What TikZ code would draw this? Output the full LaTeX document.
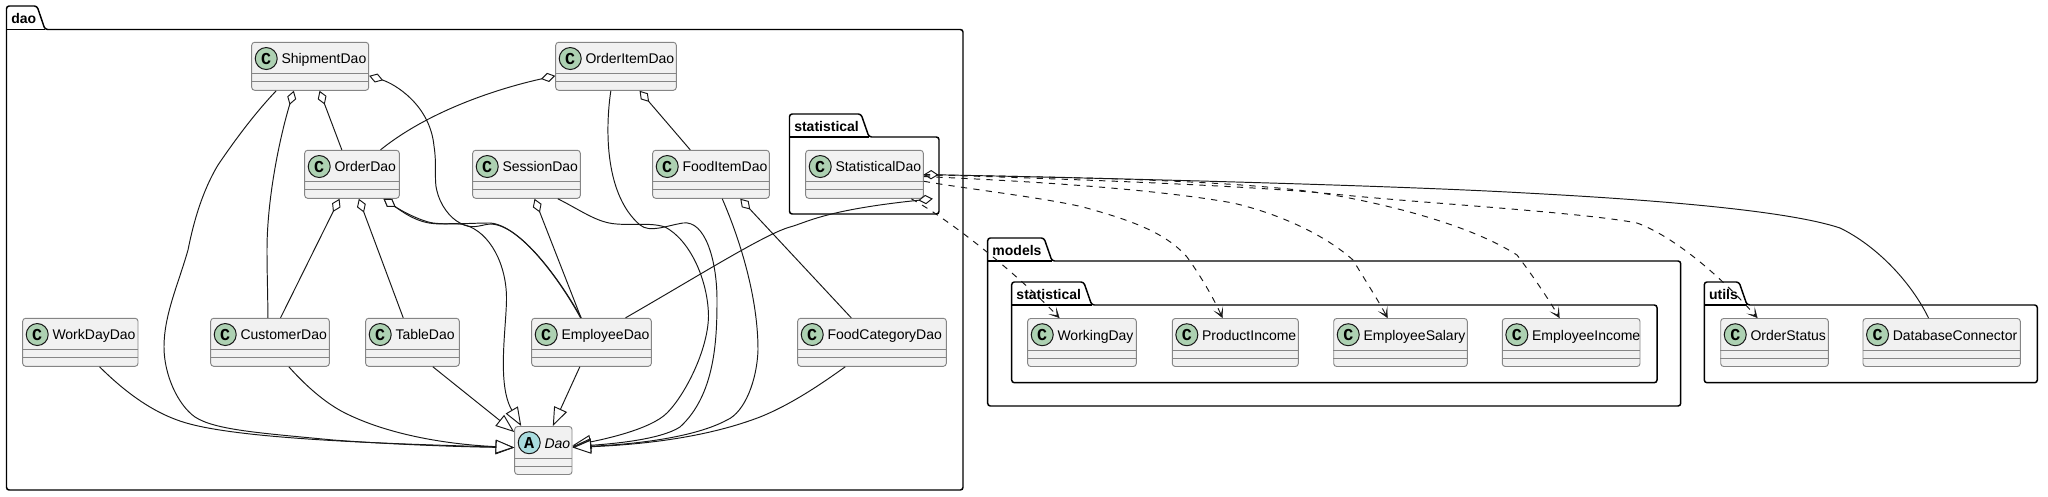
\documentclass[tikz,border=0pt]{standalone}
\usepackage{fontspec}
\setmainfont{Liberation Sans}
\newfontfamily\circlefont{Liberation Mono}
\usetikzlibrary{arrows.meta,calc}
\definecolor{ink}{HTML}{181818}
\definecolor{boxedge}{HTML}{858585}
\definecolor{boxfill}{HTML}{F1F1F1}
\definecolor{classc}{HTML}{ADD1B2}
\definecolor{abstractc}{HTML}{A9DCDF}
\tikzset{
  px/.style={x=0.75pt,y=-0.75pt},
  pkgline/.style={draw=black,line width=1.1pt,rounded corners=2pt},
  clsbox/.style={draw=boxedge,fill=boxfill,line width=0.7pt,rounded corners=2.2pt,inner sep=0pt,minimum height=36pt},
  clsrule/.style={draw=boxedge,line width=0.7pt},
  spot/.style={circle,draw=ink,line width=0.75pt,minimum size=16.5pt,inner sep=0pt,font=\circlefont\bfseries\fontsize{12.5}{12.5}\selectfont},
  clstext/.style={anchor=base west,inner sep=0pt,font=\fontsize{10.5}{12}\selectfont,text=black},
  pkgtext/.style={anchor=base west,inner sep=0pt,font=\bfseries\fontsize{10.5}{12}\selectfont,text=black},
  link/.style={draw=ink,line width=0.72pt},
  ext/.style={link,-{Triangle[length=14pt,width=10.5pt,fill=white,line width=0.72pt]}},
  agg/.style={link,{Diamond[length=11pt,width=7pt,fill=white,line width=0.72pt]}-},
  aggext/.style={link,{Diamond[length=11pt,width=7pt,fill=white,line width=0.72pt]}-{Triangle[length=14pt,width=10.5pt,fill=white,line width=0.72pt]}},
  dep/.style={link,dash pattern=on 4.7pt off 4.7pt,-{Stealth[length=8pt,width=8pt,inset=5pt,line width=0.3pt]}},
}
\newcommand{\umlpkg}[8]{% name,x1,x2,top,line,bottom,tabright,title
  \pgfmathsetmacro{\tabA}{#7-8}
  \draw[draw=black,line width=1.1pt] (#2,#5) -- (#7,#5);
  \draw[pkgline] (#2,#4) -- (\tabA,#4) -- (#7,#5) -- (#3,#5) -- (#3,#6) -- (#2,#6) -- cycle;
  \pgfmathsetmacro{\titleX}{#2+4.5}
  \pgfmathsetmacro{\titleY}{#4+17}
  \node[pkgtext] (#1) at (\titleX,\titleY) {#8};
}
\newcommand{\umlclass}[7]{% name,x1,x2,y1,letter,colour,text
  \pgfmathsetmacro{\boxcx}{(#2+#3)/2}
  \pgfmathsetmacro{\boxcy}{#4+24}
  \pgfmathsetmacro{\boxwdt}{(#3-#2)*0.75}
  \node[clsbox,minimum width=\boxwdt pt] (#1) at (\boxcx,\boxcy) {};
  \draw[clsrule] ($(#1.north west)+(0,32)$) -- ($(#1.north east)+(0,32)$);
  \draw[clsrule] ($(#1.north west)+(0,40)$) -- ($(#1.north east)+(0,40)$);
  \node[spot,fill=#6] (#1-spot) at ($(#1.north west)+(15,16.7)$) {#5};
  \node[clstext] (#1-name) at ($(#1.north west)+(30,22)$) {#7};
}
\begin{document}
\begin{tikzpicture}[px]
\useasboundingbox (0,0) rectangle (2048,496);
\fill[white] (0,0) rectangle (2048,496);

\umlpkg{pkgdao}{6.5}{963}{6}{29.5}{490}{45}{dao}
\umlpkg{pkgdaostat}{789.5}{939}{114}{137}{214}{869}{statistical}
\umlpkg{pkgmodels}{987.7}{1680.7}{238}{261}{406}{1052}{models}
\umlpkg{pkgmodelstat}{1011.7}{1657}{282}{305}{382.7}{1091.7}{statistical}
\umlpkg{pkgutils}{1704.3}{2037.3}{282}{305}{382.7}{1747}{utils}

\umlclass{ship}{251.7}{368.7}{42.3}{C}{classc}{ShipmentDao}
\umlclass{orderitem}{555.7}{676.3}{42.3}{C}{classc}{OrderItemDao}
\umlclass{order}{304.7}{399.3}{150.3}{C}{classc}{OrderDao}
\umlclass{session}{472.7}{580.3}{150.3}{C}{classc}{SessionDao}
\umlclass{fooditem}{652.7}{769.3}{150.3}{C}{classc}{FoodItemDao}
\umlclass{stat}{805.7}{923.3}{150.3}{C}{classc}{StatisticalDao}
\umlclass{workday}{22.7}{138}{318.3}{C}{classc}{WorkDayDao}
\umlclass{customer}{210.7}{329.3}{318.3}{C}{classc}{CustomerDao}
\umlclass{table}{365.7}{459.3}{318.3}{C}{classc}{TableDao}
\umlclass{employee}{531.7}{651.3}{318.3}{C}{classc}{EmployeeDao}
\umlclass{foodcat}{797.7}{946.3}{318.3}{C}{classc}{FoodCategoryDao}
\umlclass{dao}{514.7}{572}{426.5}{A}{abstractc}{\itshape Dao}
\umlclass{workingday}{1027.7}{1136.3}{318.5}{C}{classc}{WorkingDay}
\umlclass{product}{1172.3}{1298.3}{318.5}{C}{classc}{ProductIncome}
\umlclass{salary}{1333.7}{1467.3}{318.5}{C}{classc}{EmployeeSalary}
\umlclass{income}{1502.3}{1640}{318.5}{C}{classc}{EmployeeIncome}
\umlclass{status}{1720.7}{1828.3}{318.5}{C}{classc}{OrderStatus}
\umlclass{dbconn}{1863}{2020.3}{318.5}{C}{classc}{DatabaseConnector}

% generalisations to Dao
\draw[ext] ($(workday.south west)+(77.3,0)$) .. controls (125,392) and (155,415) .. (190,424) .. controls (250,440) and (400,444) .. ($(dao.north west)+(0,21.5)$);
\draw[ext] ($(ship.south west)+(25,0)$) .. controls (255,113) and (235,140) .. (218,165) .. controls (200,195) and (192,230) .. (188,250) .. controls (178,285) and (164,315) .. (164,347) .. controls (164,375) and (178,405) .. (195,417) .. controls (215,430) and (260,433) .. (333,440) .. controls (400,445) and (470,447) .. ($(dao.north west)+(0,21.5)$);
\draw[ext] ($(customer.south west)+(78.6,0)$) .. controls (305,385) and (325,403) .. (345,413) .. controls (385,433) and (440,444) .. ($(dao.north west)+(0,21.5)$);
\draw[ext] ($(table.south west)+(67.6,0)$) -- ($(dao.north west)+(0,6)$);
\draw[ext] ($(employee.south west)+(48.6,0)$) -- ($(dao.north west)+(38.6,0)$);
\draw[ext] ($(session.south west)+(85.6,0)$) .. controls (580,210) and (595,221) .. (612,223.5) .. controls (630,226) and (650,222) .. (665,227) .. controls (690,240) and (708,280) .. (708.5,316) .. controls (708,350) and (685,395) .. (667,413) .. controls (650,430) and (600,440) .. ($(dao.north east)+(0,19.5)$);
\draw[ext] ($(orderitem.south west)+(55.6,0)$) .. controls (605,130) and (605,195) .. (640,225) .. controls (650,233) and (665,226) .. (683,223) .. controls (705,220) and (717,260) .. (717,300) .. controls (717,340) and (715,395) .. (680,427) .. controls (660,440) and (610,444) .. ($(dao.north east)+(0,20.5)$);
\draw[ext] ($(fooditem.south west)+(70,0)$) .. controls (735,228) and (758,290) .. (758,350) .. controls (757,380) and (745,412) .. (727,420) .. controls (690,440) and (620,445) .. ($(dao.north east)+(0,21)$);
\draw[ext] ($(foodcat.south west)+(48,0)$) .. controls (820,385) and (790,405) .. (760,417) .. controls (700,440) and (630,445) .. ($(dao.north east)+(0,21.5)$);

% aggregations
\draw[agg] ($(ship.south west)+(68.3,0)$) -- ($(order.north west)+(37.6,0)$);
\draw[agg] ($(ship.south west)+(42.6,0)$) .. controls (279,140) and (267,200) .. (267,250) .. controls (267,275) and (268,300) .. ($(customer.north west)+(57.6,0)$);
\draw[agg] ($(ship.north east)+(0,34)$) .. controls (395,84) and (430,105) .. (434,146) .. controls (437,165) and (434,180) .. (436.7,190) .. controls (440,205) and (450,218) .. (460,223) .. controls (472,230) and (480,225) .. (490,224) .. controls (520,224) and (560,280) .. ($(employee.north west)+(50,0)$);
\draw[agg] ($(order.south west)+(79.3,0)$) .. controls (400,210) and (420,221) .. (433,223) .. controls (450,225) and (470,223) .. (490,223) .. controls (520,225) and (560,280) .. ($(employee.north west)+(49.3,0)$);
\draw[aggext] ($(order.south west)+(79.3,0)$) .. controls (400,210) and (415,222) .. (433,223.5) .. controls (445,225) and (455,222) .. (465,225) .. controls (490,232) and (507,265) .. (506.5,300) .. controls (506,330) and (497,385) .. ($(dao.north west)+(7,0)$);
\draw[agg] ($(order.south west)+(35.3,0)$) -- ($(customer.north west)+(70.3,0)$);
\draw[agg] ($(order.south west)+(54.6,0)$) -- ($(table.north west)+(38,0)$);
\draw[agg] ($(session.south west)+(62.3,0)$) -- ($(employee.north west)+(49.8,0)$);
\draw[agg] ($(orderitem.north west)+(0,34)$) .. controls (500,88) and (430,110) .. ($(order.north west)+(76.3,0)$);
\draw[agg] ($(orderitem.south west)+(84.3,0)$) -- ($(fooditem.north west)+(38,0)$);
\draw[agg] ($(fooditem.south west)+(88,0)$) -- ($(foodcat.north west)+(54,0)$);
\draw[agg] ($(stat.south west)+(127.6,0)$) .. controls (825,210) and (808,222) .. (790,227) .. controls (765,234) and (700,275) .. ($(employee.north west)+(94.3,0)$);
\draw[agg] ($(stat.north east)+(0,24.7)$) .. controls (1150,179) and (1400,186) .. (1520,192.7) .. controls (1620,198) and (1780,208) .. (1840,228) .. controls (1875,245) and (1910,280) .. ($(dbconn.north west)+(66,0)$);

% dependencies
\draw[dep] ($(stat.south west)+(106,0)$) .. controls (950,220) and (1015,272) .. ($(workingday.north west)+(32.3,0)$);
\draw[dep] ($(stat.north east)+(0,31.4)$) .. controls (960,188) and (1040,197) .. (1083,207) .. controls (1130,220) and (1165,232) .. (1187,257) .. controls (1200,275) and (1213,297) .. ($(product.north west)+(50.7,0)$);
\draw[dep] ($(stat.north east)+(0,26.7)$) .. controls (1050,182) and (1160,190) .. (1233,203) .. controls (1280,214) and (1325,235) .. (1353,260) .. controls (1365,280) and (1378,300) .. ($(salary.north west)+(54.3,0)$);
\draw[dep] ($(stat.north east)+(0,25.2)$) .. controls (1100,177) and (1260,182) .. (1333,195) .. controls (1390,205) and (1470,225) .. (1517,255) .. controls (1530,272) and (1548,298) .. ($(income.north west)+(57.7,0)$);
\draw[dep] ($(stat.north east)+(0,24.7)$) .. controls (1100,180) and (1250,186) .. (1333,194) .. controls (1420,203) and (1580,212) .. (1637,223) .. controls (1670,235) and (1715,270) .. ($(status.north west)+(37.3,0)$);
\end{tikzpicture}
\end{document}
